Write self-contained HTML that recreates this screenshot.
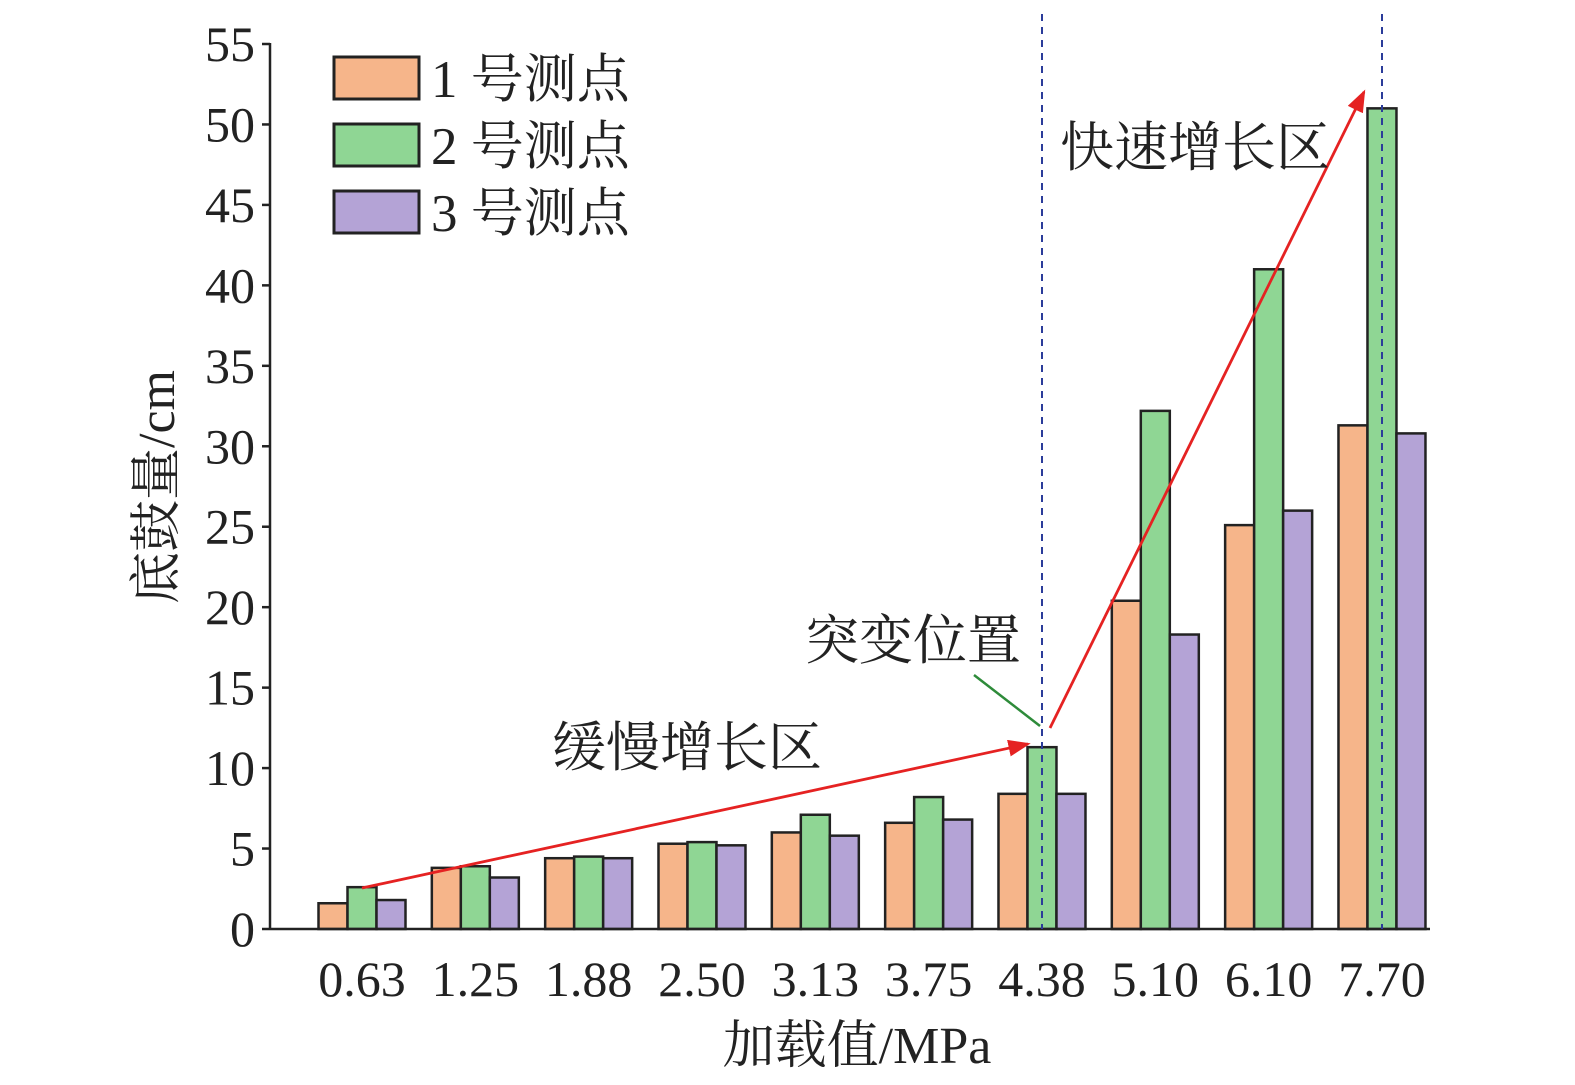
<!DOCTYPE html>
<html><head><meta charset="utf-8"><style>
html,body{margin:0;padding:0;background:#fff;}
svg{display:block;font-family:"Liberation Serif","Noto Serif CJK SC",serif;}
</style></head><body>
<svg id="chart" width="1575" height="1085" viewBox="0 0 1575 1085"></svg>
<script>
const categories=["0.63","1.25","1.88","2.50","3.13","3.75","4.38","5.10","6.10","7.70"];
const series1=[1.6,3.8,4.4,5.3,6.0,6.6,8.4,20.4,25.1,31.3];
const series2=[2.6,3.9,4.5,5.4,7.1,8.2,11.3,32.2,41.0,51.0];
const series3=[1.8,3.2,4.4,5.2,5.8,6.8,8.4,18.3,26.0,30.8];
const yTicks=[0,5,10,15,20,25,30,35,40,45,50,55];
const seriesNames=["1 号测点","2 号测点","3 号测点"];
const colors=["#F6B58A","#8FD694","#B4A3D6"];
const NS="http://www.w3.org/2000/svg";
const svg=document.getElementById('chart');
const y0=929,yTop=44,yMax=55;
const yS=v=>y0-(v/yMax)*(y0-yTop);
const xC=i=>362+i*113.33;
const bw=29;
function mk(t,a,p){const e=document.createElementNS(NS,t);for(const k in a)e.setAttribute(k,a[k]);(p||svg).appendChild(e);return e;}
[series1,series2,series3].forEach((s,si)=>{
 s.forEach((v,i)=>{
  const x=xC(i)+(si-1)*bw-bw/2;
  const r=mk('rect',{x:x,y:yS(v),width:bw,height:y0-yS(v),fill:colors[si],stroke:'#222','stroke-width':2.5});
  
  
 });
});
let ax=mk('line',{x1:270,y1:y0,x2:1430,y2:y0,stroke:'#222','stroke-width':2.5});

let ay=mk('line',{x1:270,y1:y0+1,x2:270,y2:yTop-1,stroke:'#222','stroke-width':2.5});

yTicks.forEach(t=>{
 mk('line',{x1:262,y1:yS(t),x2:270,y2:yS(t),stroke:'#222','stroke-width':2.5});
 const tx=mk('text',{x:255,y:yS(t)+17,'text-anchor':'end','font-size':50,fill:'#222'});
 tx.textContent=t;
 
});
categories.forEach((c,i)=>{
 const tx=mk('text',{x:xC(i),y:996,'text-anchor':'middle','font-size':50,fill:'#222'});
 tx.textContent=c;
 
});
[1042,1382].forEach(x=>{
 const l=mk('line',{x1:x,y1:14,x2:x,y2:y0,stroke:'#2B3C9A','stroke-width':2,'stroke-dasharray':'7,6'});
 
});
const defs=mk('defs',{});
const m=mk('marker',{id:'ah',markerWidth:8,markerHeight:6,refX:7,refY:3,orient:'auto',markerUnits:'strokeWidth'},defs);
mk('path',{d:'M0,0 L8,3 L0,6 Z',fill:'#E52222'},m);
let a1=mk('line',{x1:362,y1:888,x2:1028,y2:744,stroke:'#E52222','stroke-width':2.8,'marker-end':'url(#ah)'});

let a2=mk('line',{x1:1050,y1:728,x2:1364,y2:92,stroke:'#E52222','stroke-width':2.8,'marker-end':'url(#ah)'});

let g=mk('line',{x1:1040,y1:726,x2:974,y2:675,stroke:'#2E8B3A','stroke-width':2.5});

[["突变位置",805,659,'mutation-label'],["缓慢增长区",552,766,'slow-growth-label'],["快速增长区",1060,166,'fast-growth-label']].forEach(a=>{
 const t=mk('text',{x:a[1],y:a[2],'font-size':54,fill:'#222'});t.textContent=a[0];
 
});
[57,124,191].forEach((y,i)=>{
 const r=mk('rect',{x:334,y:y,width:85,height:42,fill:colors[i],stroke:'#222','stroke-width':3});
 
 const t=mk('text',{x:431,y:y+40,'font-size':53,fill:'#222'});t.textContent=seriesNames[i];
 
});
let xt=mk('text',{x:857,y:1063,'text-anchor':'middle','font-size':52,fill:'#222'});
xt.textContent="加载值/MPa";
let yt=mk('text',{x:0,y:0,'text-anchor':'middle','font-size':52,fill:'#222',transform:'translate(174,487) rotate(-90)'});
yt.textContent="底鼓量/cm";
</script>
</body></html>
